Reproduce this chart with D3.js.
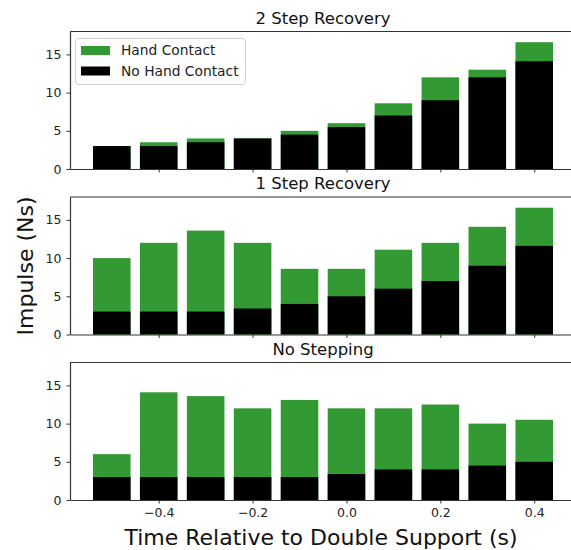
<!DOCTYPE html>
<html>
<head>
<meta charset="utf-8">
<script src="https://cdnjs.cloudflare.com/ajax/libs/d3/7.8.5/d3.min.js"></script>
<style>
  body { margin: 0; background: #fff; }
  svg { font-family: "DejaVu Sans", sans-serif; }
  .tick text { font-size: 12.5px; fill: #222; font-family: "DejaVu Sans", sans-serif; }
  .tick line, .domain { stroke: #333; }
</style>
</head>
<body>
<div id="chart"></div>
<script>
const WIDTH = 571;
const HEIGHT = 550;
const LEFT = 70;
const RIGHT_EDGE = 576;
const PANEL_TOP = 31.5;
const PANEL_STEP = 165.5;
const PANEL_HEIGHT = 137.5;

const times = [-0.5, -0.4, -0.3, -0.2, -0.1, 0.0, 0.1, 0.2, 0.3, 0.4];
const xTicks = [-0.4, -0.2, 0.0, 0.2, 0.4];
const yTicks = [0, 5, 10, 15];
const panelTitles = ['2 Step Recovery', '1 Step Recovery', 'No Stepping'];

// total impulse (drawn green) and impulse without hand contact (drawn black on top)
const twoStepHand = [3, 3.5, 4, 4, 5, 6, 8.6, 12, 13, 16.6];
const twoStepNoHand = [3, 3, 3.5, 4, 4.5, 5.5, 7, 9, 12, 14.1];
const oneStepHand = [10, 12, 13.6, 12, 8.6, 8.6, 11.1, 12, 14.1, 16.6];
const oneStepNoHand = [3, 3, 3, 3.4, 4, 5, 6, 7, 9, 11.6];
const noStepHand = [6, 14.1, 13.6, 12, 13.1, 12, 12, 12.5, 10, 10.5];
const noStepNoHand = [3, 3, 3, 3, 3, 3.4, 4, 4, 4.5, 5];

const panels = [
  {title: panelTitles[0], hand: twoStepHand, noHand: twoStepNoHand},
  {title: panelTitles[1], hand: oneStepHand, noHand: oneStepNoHand},
  {title: panelTitles[2], hand: noStepHand, noHand: noStepNoHand},
];

const GREEN = '#339933';
const BAR_WIDTH = 0.08;

const svg = d3.select('#chart').append('svg')
  .attr('width', WIDTH)
  .attr('height', HEIGHT);

const xScale = d3.scaleLinear()
  .domain([-0.589, 0.489])
  .range([LEFT, RIGHT_EDGE]);

const barPx = xScale(BAR_WIDTH) - xScale(0);

panels.forEach((panel, i) => {
  const top = PANEL_TOP + i * PANEL_STEP;
  const yScale = d3.scaleLinear()
    .domain([0, 18])
    .range([top + PANEL_HEIGHT, top]);

  const g = svg.append('g').attr('class', 'panel');

  g.selectAll('rect.hand')
    .data(panel.hand)
    .enter()
    .append('rect')
    .attr('class', 'hand')
    .attr('x', (d, j) => xScale(times[j]) - barPx / 2)
    .attr('width', barPx)
    .attr('y', (d) => yScale(d))
    .attr('height', (d) => yScale(0) - yScale(d))
    .attr('fill', GREEN);

  g.selectAll('rect.nohand')
    .data(panel.noHand)
    .enter()
    .append('rect')
    .attr('class', 'nohand')
    .attr('x', (d, j) => xScale(times[j]) - barPx / 2)
    .attr('width', barPx)
    .attr('y', (d) => yScale(d))
    .attr('height', (d) => yScale(0) - yScale(d))
    .attr('fill', '#000');

  // spines (top + left + bottom, right side falls outside the picture)
  g.append('line')
    .attr('x1', LEFT).attr('x2', RIGHT_EDGE)
    .attr('y1', top).attr('y2', top)
    .attr('stroke', '#333');

  const xAxis = d3.axisBottom(xScale)
    .tickValues(xTicks)
    .tickSize(3.5)
    .tickSizeOuter(0)
    .tickPadding(5)
    .tickFormat(i === 2 ? (d) => d3.format('.1f')(d).replace('-', '\u2212') : '');

  g.append('g')
    .attr('class', 'xAxis')
    .attr('transform', `translate(0, ${yScale(0)})`)
    .call(xAxis);

  const yAxis = d3.axisLeft(yScale)
    .tickValues(yTicks)
    .tickSize(3.5)
    .tickSizeOuter(0)
    .tickPadding(5);

  g.append('g')
    .attr('class', 'yAxis')
    .attr('transform', `translate(${LEFT}, 0)`)
    .call(yAxis);

  g.selectAll('.domain').attr('stroke-width', 1.2);

  g.append('text')
    .attr('x', (LEFT + RIGHT_EDGE) / 2)
    .attr('y', top - 8)
    .attr('text-anchor', 'middle')
    .attr('font-size', 16.5)
    .attr('fill', '#111')
    .text(panel.title);
});

// legend in the top panel
const legend = svg.append('g').attr('class', 'legend');
legend.append('rect')
  .attr('x', 75.5).attr('y', 38.5)
  .attr('width', 170).attr('height', 46)
  .attr('rx', 3)
  .attr('fill', 'rgba(255,255,255,0.8)')
  .attr('stroke', '#d0d0d0');

const legendItems = [
  {label: 'Hand Contact', color: GREEN},
  {label: 'No Hand Contact', color: '#000'},
];

legend.selectAll('g.item')
  .data(legendItems)
  .enter()
  .append('g')
  .attr('class', 'item')
  .attr('transform', (d, j) => `translate(81, ${46 + j * 20.5})`)
  .each(function (d) {
    const item = d3.select(this);
    item.append('rect')
      .attr('width', 29).attr('height', 9)
      .attr('fill', d.color);
    item.append('text')
      .attr('x', 40).attr('y', 9)
      .attr('font-size', 13.8)
      .attr('fill', '#222')
      .text(d.label);
  });

svg.append('text')
  .attr('x', (LEFT + RIGHT_EDGE) / 2 - 2)
  .attr('y', 545)
  .attr('text-anchor', 'middle')
  .attr('font-size', 22)
  .attr('fill', '#111')
  .text('Time Relative to Double Support (s)');

svg.append('text')
  .attr('transform', `translate(33, 266) rotate(-90)`)
  .attr('text-anchor', 'middle')
  .attr('font-size', 22)
  .attr('fill', '#111')
  .text('Impulse (Ns)');
</script>
</body>
</html>
